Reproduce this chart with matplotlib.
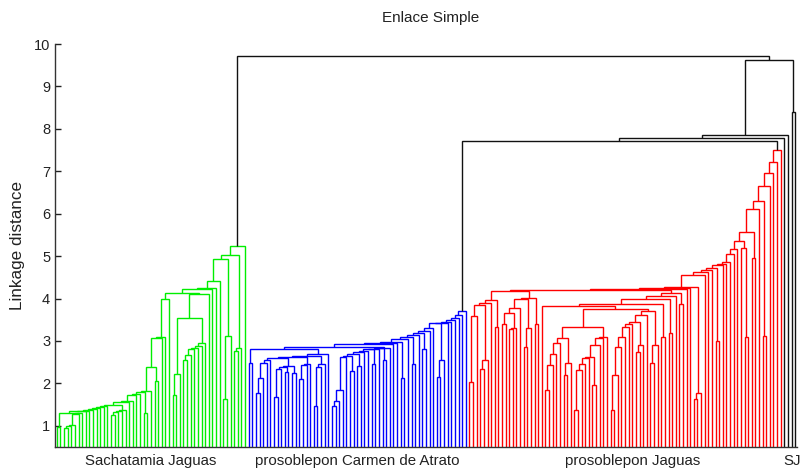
import matplotlib
matplotlib.use("Agg")
import matplotlib.pyplot as plt

# ---- tree data in "chain" notation: [item0, h1, item1, h2, item2, ...]
# item = 0 (a leaf) or a nested chain; each h is the linkage distance at which
# the cluster built so far is joined with the next item.
green_low = [[0, 0.98, 0], 1.30, [[0, 0.95, 0, 0.99, 0, 1.03, 0], 1.27, 0, 1.29, 0],
             1.35, 0, 1.36, 0, 1.38, 0, 1.40, 0, 1.42, 0, 1.45, 0, 1.47, 0,
             1.50, [0, 1.25, 0, 1.33, 0, 1.36, 0, 1.37, 0], 1.55, 0, 1.58, 0,
             1.72, 0, 1.74, 0, 1.80, [0, 1.30, 0], 1.83, 0]
green_left = [green_low, 2.38, [0, 2.05, 0], 3.08, 0, 3.10, 0, 4.00, 0]
green_chain = [0, 2.55, 0, 2.68, 0, 2.80, 0, 2.84, 0, 2.87, 0, 2.95, 0]
green_right = [[[0, 1.72, 0], 2.22, 0], 3.55, green_chain, 4.10, 0]
green = [[green_left, 4.13, green_right], 4.22, 0, 4.25, 0, 4.42, 0,
         4.92, [[0, 1.62, 0], 3.12, 0], 5.02, [[0, 2.77, 0], 2.84, 0], 5.25, 0]

blue_a = [[0, 2.49, 0], 2.80,
          [[[[0, 1.78, 0], 2.13, 0], 2.47, 0, 2.55, 0], 2.60,
           [[0, 1.68, 0], 2.35, 0, 2.38, [0, 2.27, 0], 2.40, [0, 2.25, 0]], 2.62,
           [[0, 2.10, 0], 2.43, 0, 2.45, 0], 2.65,
           [[0, 1.46, 0], 2.38, 0, 2.45, 0], 2.70, 0]]
blue_b = [[[0, 1.47, 0], 1.59, 0, 1.84, 0], 2.63, 0, 2.65, [0, 2.30, 0], 2.70, [0, 2.40, 0],
          2.74, 0, 2.77, 0, 2.80, [0, 2.45, 0], 2.82, 0, 2.83, [0, 2.55, 0], 2.84, 0]
blue = [[blue_a, 2.85, blue_b], 2.92, 0, 2.95, 0, 2.98, [0, 2.12, 0], 3.05, 0,
        3.10, [0, 2.45, 0], 3.15, 0, 3.18, [0, 2.80, 0], 3.23, 0, 3.30, 0,
        3.42, [[0, 2.14, 0], 2.55, 0], 3.43, 0, 3.45, 0, 3.50, 0, 3.55, 0, 3.62, 0, 3.70, 0]

red_la = [[[[0, 2.04, 0], 3.58, 0], 3.84, [[0, 2.33, 0], 2.55, 0]], 3.90, 0, 3.96, [0, 3.33, 0]]
red_lb = [[[0, 3.41, 0], 3.65, [0, 3.28, 0, 3.30, 0]], 3.77, 0, 4.00,
          [[0, 2.86, 0], 3.30, 0], 4.02, [0, 3.41, 0]]
red_ma = [[[[0, 1.84, 0], 2.43, 0], 2.70, 0, 2.94, 0, 3.06, [[0, 2.19, 0], 2.47, 0]], 3.33,
          [[[0, 1.37, 0], 2.31, 0, 2.45, 0], 2.59, 0, 2.62, [0, 1.96, 0], 2.90, 0, 3.06, 0, 3.10, 0]]
red_mb = [[[[0, 1.37, 0], 2.19, 0], 2.86, 0, 3.10, 0], 3.33, 0, 3.40, 0, 3.45,
          [0, 2.74, 0, 2.90, 0], 3.60, 0, 3.70, [[0, 2.47, 0], 2.90, 0]]
red_mid = [0, 3.82, [red_ma, 3.75, red_mb], 3.87, [0, 3.10, 0], 4.00, [0, 3.18, 0],
           4.05, 0, 4.13, [0, 3.88, 0]]
red = [[red_la, 4.18, red_lb], 4.20, red_mid, 4.22, 0, 4.24, 0,
       4.26, [[0, 1.63, 0], 1.78, 0], 4.55, 0, 4.62, 0, 4.67, 0, 4.72, [0, 3.00, 0],
       4.78, 0, 4.82, 0, 4.87, 0, 5.05, 0, 5.16, 0, 5.35, [0, 5.20, [0, 3.10, 0]],
       5.57, [0, 4.96, 0], 6.11, 0, 6.30, [0, 3.12, 0], 6.66, 0, 6.97, 0, 7.21, 0, 7.50, 0]

tree = [green, 9.72, [[blue, 7.72, red, 7.78, 0, 7.85, 0], 9.62, [0, 8.40, 0]]]

group_labels = ["Sachatamia Jaguas", "prosoblepon Carmen de Atrato", "prosoblepon Jaguas", "SJ"]
y_ticks = [1, 2, 3, 4, 5, 6, 7, 8, 9, 10]
title = "Enlace Simple"
ylabel = "Linkage distance"

# ---- styling
plt.rcParams['font.family'] = ['Liberation Sans', 'DejaVu Sans']
COL = {id(green): '#00ee00', id(blue): '#0000ff', id(red): '#ff0000'}
LW = 1.0


def count(node):
    if not isinstance(node, list):
        return 1
    return sum(count(node[k]) for k in range(0, len(node), 2))


fig = plt.figure(figsize=(8.03, 4.73), dpi=100)
ax = fig.add_axes([55 / 803, 26 / 473, 742 / 803, 403 / 473])

pos = [0]


def draw(node, color):
    if not isinstance(node, list):
        pos[0] += 1
        return float(pos[0]), 0.0
    c = COL.get(id(node), color)
    x, h = draw(node[0], c)
    for k in range(1, len(node), 2):
        hm = node[k]
        x2, h2 = draw(node[k + 1], c)
        ax.plot([x, x, x2, x2], [h, hm, hm, h2], color=c, lw=LW,
                solid_joinstyle='miter', solid_capstyle='butt')
        x, h = (x + x2) / 2, hm
    return x, h


draw(tree, '#111111')
N = pos[0]
ng, nb, nr = count(green), count(blue), count(red)
centers = [(1 + ng) / 2, ng + (1 + nb) / 2, ng + nb + (1 + nr) / 2 + 2, N - 0.8]

ax.set_xlim(0.5, N + 0.5)
ax.set_ylim(0.5, 10)
ax.set_yticks(y_ticks)
ax.set_yticklabels([str(t) for t in y_ticks], fontsize=10.5)
ax.set_xticks(centers)
ax.set_xticklabels(group_labels, fontsize=10.8)
ax.tick_params(axis='x', length=0, pad=5, colors='#222222')
ax.tick_params(axis='y', direction='in', length=4, width=1, pad=3.5, colors='#222222')
for s in ('top', 'right'):
    ax.spines[s].set_visible(False)
for s in ('left', 'bottom'):
    ax.spines[s].set_color('#333333')
    ax.spines[s].set_linewidth(1.0)

ax.set_ylabel(ylabel, fontsize=12.3, color='#222222')
ax.yaxis.set_label_coords(-0.040, 0.5)
fig.text(431 / 803, 1 - 18 / 473, title, ha='center', va='center', fontsize=11, color='#222222')

fig.savefig("out.png", dpi=100)
